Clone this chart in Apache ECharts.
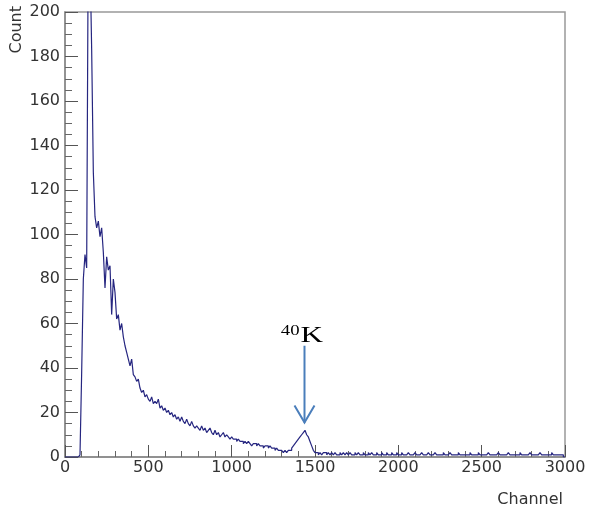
<!DOCTYPE html>
<html>
<head>
<meta charset="utf-8">
<title>Channel spectrum</title>
<script src="https://cdn.jsdelivr.net/npm/echarts@6/dist/echarts.min.js"></script>
<style>
  html, body { margin: 0; padding: 0; background: #fff; }
  #chart { width: 589px; height: 510px; }
</style>
</head>
<body>
<div id="chart"></div>
<script>
// histogram, 10 channels per bin, starting at channel 0
var binWidth = 10;
var counts = [
  0, 0, 0, 0, 0, 0, 0, 0, 0, 1,
  38, 80, 91, 85, 240, 225, 183, 128, 108, 103,
  106, 99, 103, 92, 76, 90, 84, 86, 64, 80,
  74, 62, 64, 57, 60, 54, 50, 47, 44, 41,
  44, 37, 36, 34, 35, 31, 29, 30, 27, 28,
  26, 25, 27, 24, 25, 24, 26, 22, 23, 21,
  22, 20, 21, 19, 20, 18, 19, 17, 18, 16,
  18, 16, 15, 17, 15, 14, 16, 14, 13, 14,
  13, 12, 14, 12, 13, 11, 12, 13, 11, 10,
  12, 10, 11, 9, 10, 11, 9, 10, 9, 8,
  9, 8, 8, 7, 8, 7, 7, 6, 7, 6,
  7, 6, 5, 6, 6, 5, 6, 5, 5, 4,
  5, 5, 4, 5, 4, 4, 3, 4, 3, 3,
  3, 2, 3, 2, 3, 3, 4, 5, 6, 7,
  8, 9, 10, 11, 12, 10, 9, 7, 5, 3,
  2, 2, 1, 2, 1, 2, 2, 1, 2, 1,
  2, 1, 2, 1, 1, 2, 1, 2, 1, 2,
  1, 2, 1, 1, 2, 1, 2, 1, 1, 2,
  1, 1, 2, 1, 2, 1, 1, 2, 1, 1,
  2, 1, 1, 2, 1, 1, 2, 1, 1, 2,
  1, 1, 2, 1, 1, 1, 2, 1, 1, 1,
  2, 1, 1, 1, 2, 1, 1, 1, 2, 1,
  1, 1, 2, 1, 1, 1, 1, 2, 1, 1,
  1, 2, 1, 1, 1, 1, 2, 1, 1, 1,
  1, 1, 1, 2, 1, 1, 1, 1, 2, 1,
  1, 1, 1, 1, 2, 1, 1, 1, 1, 1,
  2, 1, 1, 1, 1, 1, 2, 1, 1, 1,
  1, 1, 1, 2, 1, 1, 1, 1, 1, 2,
  1, 1, 1, 1, 1, 2, 1, 1, 1, 1,
  1, 1, 2, 1, 1, 1, 1, 1, 1, 0
];

// 40K annotation arrow (data coords)
var peakChannel = 1437;
var arrowTop = 50;
var arrowTip = 15.5;

var font = 'DejaVu Sans';
var data = [];
for (var i = 0; i < counts.length; i++) {
  data.push([i * binWidth, counts[i]]);
}
data.push([counts.length * binWidth, counts[counts.length - 1]]);

function plain(v) { return String(v); }

var chart = echarts.init(document.getElementById('chart'));
var option = {
  animation: false,
  grid: {
    left: 65, right: 24, top: 12, bottom: 53,
    show: true, borderColor: '#999', borderWidth: 1.5
  },
  xAxis: {
    type: 'value', min: 0, max: 3000, interval: 500,
    axisLine: { show: true, onZero: false, lineStyle: { color: '#888', width: 1.5 } },
    axisTick: { show: true, inside: true, length: 12, lineStyle: { color: '#555' } },
    minorTick: { show: true, splitNumber: 5, length: 6, lineStyle: { color: '#666' } },
    axisLabel: { fontFamily: font, fontSize: 16, color: '#333', margin: 3, formatter: plain },
    splitLine: { show: false }
  },
  yAxis: {
    type: 'value', min: 0, max: 200, interval: 20,
    axisLine: { show: true, lineStyle: { color: '#888', width: 1.5 } },
    axisTick: { show: true, inside: true, length: 13, lineStyle: { color: '#555' } },
    minorTick: { show: true, splitNumber: 4, length: 7, lineStyle: { color: '#666' } },
    axisLabel: { fontFamily: font, fontSize: 16, color: '#333', margin: 5, formatter: plain },
    splitLine: { show: false }
  },
  series: [{
    type: 'line',
    step: 'end',
    data: data,
    showSymbol: false,
    clip: true,
    lineStyle: { color: '#262680', width: 1.2 }
  }]
};
chart.setOption(option);

// annotation + axis titles
var pTop = chart.convertToPixel({ gridIndex: 0 }, [peakChannel, arrowTop]);
var pTip = chart.convertToPixel({ gridIndex: 0 }, [peakChannel, arrowTip]);
var blue = '#4a7ebb';
chart.setOption({
  graphic: [
    {
      type: 'line',
      shape: { x1: pTop[0], y1: pTop[1], x2: pTip[0], y2: pTip[1] },
      style: { stroke: blue, lineWidth: 2 }
    },
    {
      type: 'polyline',
      shape: { points: [[pTip[0] - 10, pTip[1] - 17], [pTip[0], pTip[1]], [pTip[0] + 10, pTip[1] - 17]] },
      style: { stroke: blue, lineWidth: 2, fill: null }
    },
    {
      type: 'text', x: pTop[0] - 4, y: pTop[1] - 10, scaleX: 1.3,
      style: { text: 'K', font: '24px "Liberation Serif"', fill: '#000', align: 'left', verticalAlign: 'middle' }
    },
    {
      type: 'text', x: pTop[0] - 5, y: pTop[1] - 15, scaleX: 1.25,
      style: { text: '40', font: '15px "Liberation Serif"', fill: '#000', align: 'right', verticalAlign: 'middle' }
    },
    {
      type: 'text', x: 17, y: 6, rotation: Math.PI / 2,
      style: { text: 'Count', font: '16px "DejaVu Sans"', fill: '#333', align: 'right', verticalAlign: 'middle' }
    },
    {
      type: 'text', x: 563, y: 500,
      style: { text: 'Channel', font: '16px "DejaVu Sans"', fill: '#333', align: 'right', verticalAlign: 'middle' }
    }
  ]
});
</script>
</body>
</html>
